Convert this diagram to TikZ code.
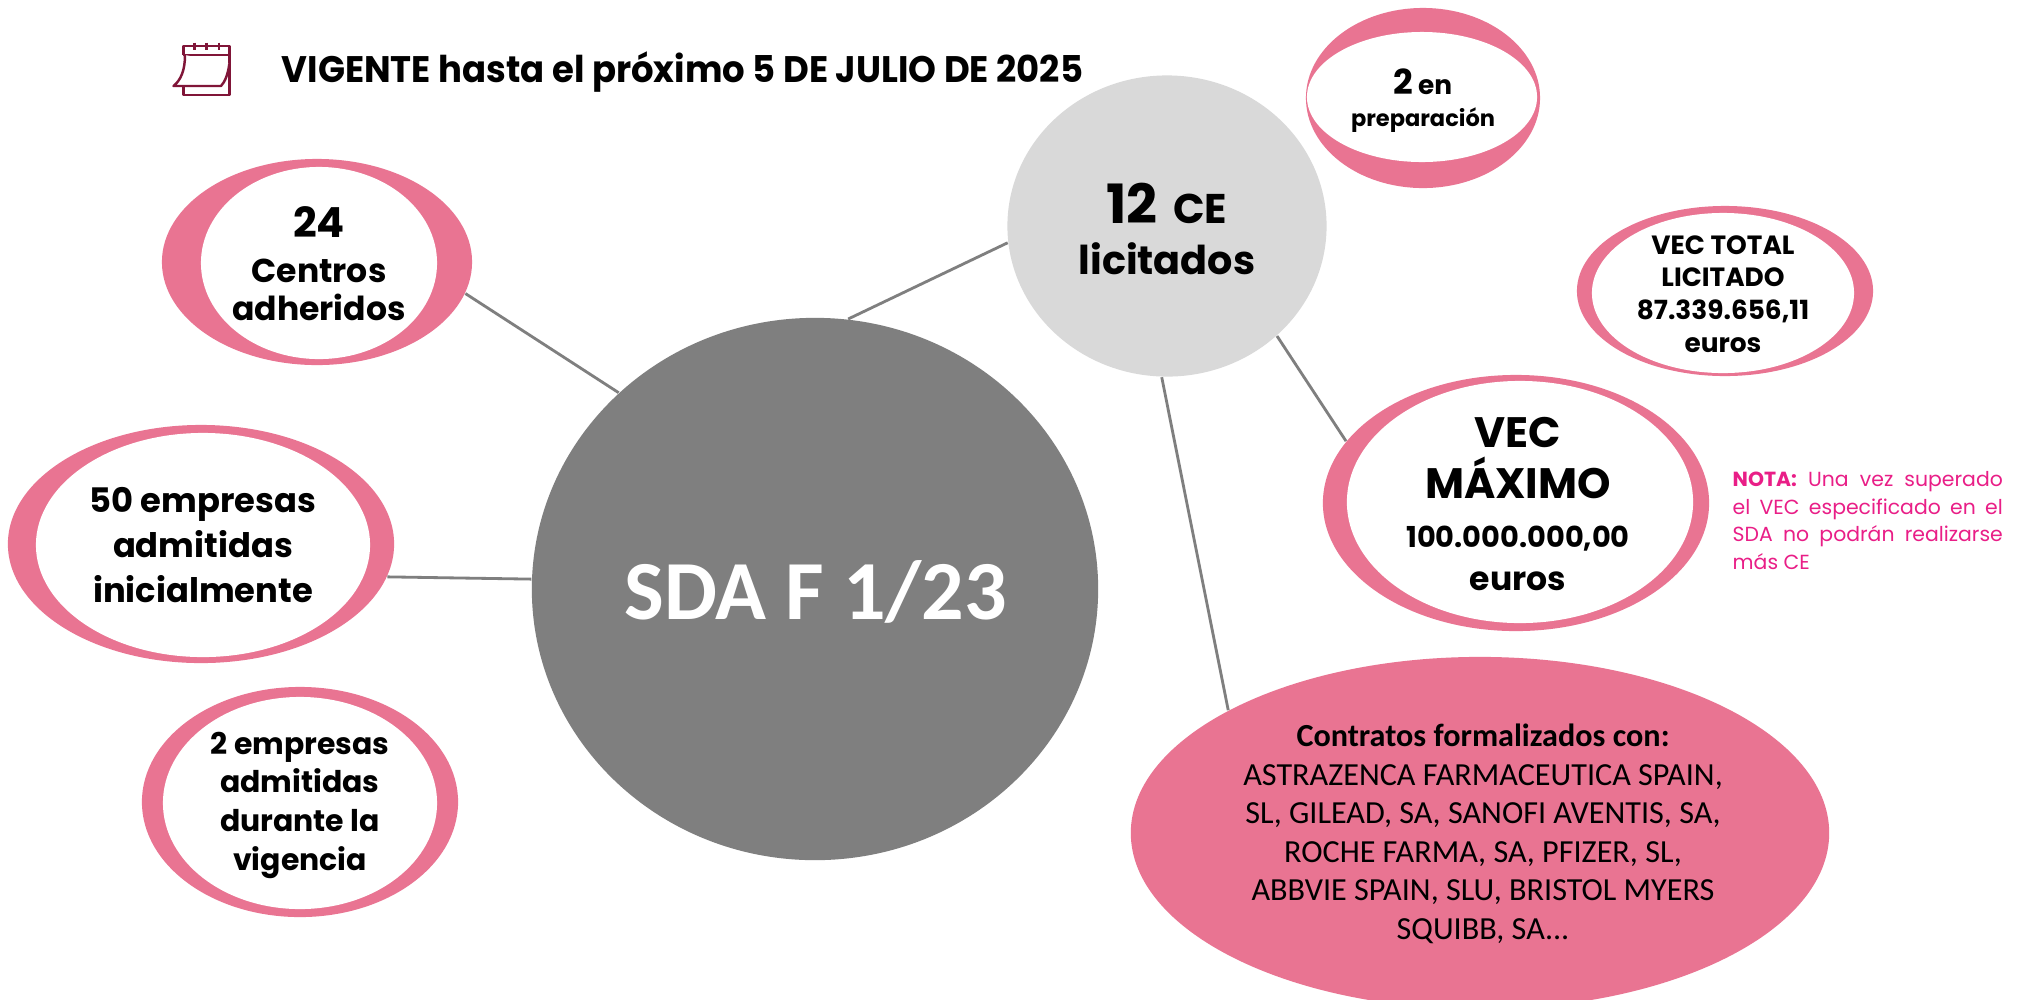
\documentclass[tikz,border=0pt]{standalone}
\usepackage{fontspec}
\setmainfont{Poppins}
\newfontfamily\calib{Carlito}
\usetikzlibrary{shapes.geometric}
\definecolor{pinkc}{RGB}{233,116,146}
\definecolor{grayc}{RGB}{127,127,127}
\definecolor{lgrayc}{RGB}{217,217,217}
\definecolor{connc}{RGB}{127,127,127}
\definecolor{notac}{RGB}{233,30,135}
\definecolor{maroonc}{RGB}{128,21,56}
\begin{document}
\begin{tikzpicture}[x=0.01cm,y=-0.01cm,
  ring/.style={ellipse,fill=pinkc,inner sep=0pt,draw=none},
  blob/.style={ellipse,inner sep=0pt,draw=none},
  conn/.style={draw=connc,line width=0.8pt},
  lbl/.style={align=center,inner sep=0pt,text=black},
  cal/.style={draw=maroonc,line width=0.7pt,line join=round}]
\fill[white] (0,0) rectangle (2020,999);
\useasboundingbox (0,0) rectangle (2020,999);

% calendar icon
\draw[cal] (183.3,55) -- (183.3,46) -- (229.3,46) -- (229.3,95) -- (183.3,95) -- (183.3,86);
\draw[cal] (183.3,55) -- (229.3,55);
\draw[cal] (194.3,42.5) -- (194.3,50) (206.7,42.5) -- (206.7,50) (219,42.5) -- (219,50);
\draw[cal,fill=white] (185,55) .. controls (185,70) and (181,80) .. (173.5,86) -- (221,86) .. controls (225,82) and (228,74) .. (229.3,64);

% title
\node[anchor=base west,inner sep=0pt,font=\fontsize{10.5}{13}\selectfont\bfseries] (title) at (281,82)
  {\scalebox{0.96}[1]{VIGENTE hasta el próximo 5 DE JULIO DE 2025}};

% shapes
\node[ring,minimum width=3.10cm,minimum height=2.06cm] (n24) at (317,262) {};
\fill[white] (319,263) ellipse [x radius=1.18cm,y radius=0.96cm];
\node[ring,minimum width=3.86cm,minimum height=2.38cm] (n50) at (201,544) {};
\fill[white] (203,545) ellipse [x radius=1.67cm,y radius=1.12cm];
\node[ring,minimum width=3.16cm,minimum height=2.30cm] (n2e) at (300,802) {};
\fill[white] (300,803) ellipse [x radius=1.37cm,y radius=1.06cm];
\node[blob,fill=grayc,minimum width=5.66cm,minimum height=5.42cm] (sda) at (815,589) {};
\node[blob,fill=lgrayc,minimum width=3.19cm,minimum height=3.01cm] (ce) at (1167,226) {};
\node[ring,minimum width=2.34cm,minimum height=1.80cm] (prep) at (1423,98) {};
\fill[white] (1422,97) ellipse [x radius=1.15cm,y radius=0.65cm];
\node[ring,minimum width=2.96cm,minimum height=1.70cm] (vtot) at (1725,291) {};
\fill[white] (1723,293) ellipse [x radius=1.31cm,y radius=0.80cm];
\node[ring,minimum width=3.86cm,minimum height=2.56cm] (vmax) at (1516,503) {};
\fill[white] (1520,502) ellipse [x radius=1.73cm,y radius=1.21cm];
\node[blob,fill=pinkc,minimum width=6.98cm,minimum height=3.52cm] (contr) at (1480,833) {};

% connectors
\draw[conn] (n24.-12.5) -- (sda.135.9);
\draw[conn] (n50.-10) -- (sda.178.2);
\draw[conn] (sda.83.1) -- (ce.186.7);
\draw[conn] (ce.-45) -- (vmax.160.2);
\draw[conn] (ce.-92) -- (contr.154.9);

% labels
\node[lbl,font=\fontsize{9.4}{10.8}\selectfont\bfseries] (t24) at (319,264)
  {{\fontsize{11.8}{13}\selectfont 24}\\[2pt]Centros\\adheridos};
\node[lbl,font=\fontsize{9.6}{12.7}\selectfont\bfseries] (t50) at (203,545)
  {50 empresas\\admitidas\\inicialmente};
\node[lbl,font=\fontsize{8.5}{11}\selectfont\bfseries] (t2e) at (300,805)
  {2 empresas\\admitidas\\durante la\\vigencia};
\node[inner sep=0pt,anchor=base,text=white,font=\fontsize{23.9}{28}\selectfont\calib\bfseries] (tsda) at (816,619)
  {SDA F 1/23};
\node[lbl,font=\fontsize{11.3}{14.5}\selectfont\bfseries] (tce) at (1167,229)
  {{\fontsize{15.4}{16}\selectfont 12}\hspace{2pt} {\fontsize{11.8}{13}\selectfont CE}\\licitados};
\node[lbl,font=\fontsize{6.4}{9.1}\selectfont\bfseries] (tprep) at (1423,101)
  {{\fontsize{9.8}{10}\selectfont 2} {\fontsize{7.5}{9}\selectfont en}\\preparación};
\node[lbl,font=\fontsize{7.5}{9.3}\selectfont\bfseries] (tvtot) at (1723,294)
  {VEC TOTAL\\LICITADO\\87.339.656,11\\euros};
\node[lbl,font=\fontsize{12.1}{14.5}\selectfont\bfseries] (tvmax) at (1518,504)
  {VEC\\MÁXIMO\\[-0.5pt]{\fontsize{8.2}{10}\selectfont 100.000.000,00}\\[-2.3pt]{\fontsize{9.4}{10}\selectfont euros}};
\node[align=left,inner sep=0pt,anchor=north west,text=notac,font=\fontsize{5.8}{7.8}\selectfont] (tnota) at (1732,471)
  {\makebox[2.70cm][s]{\textbf{NOTA:} Una vez superado}\\\makebox[2.70cm][s]{el VEC especificado en el}\\\makebox[2.70cm][s]{SDA no podrán realizarse}\\más CE};
\node[lbl,font=\fontsize{9.15}{10.95}\selectfont\calib] (tcontr) at (1483,834)
  {\textbf{Contratos formalizados con:}\\ASTRAZENCA FARMACEUTICA SPAIN,\\SL, GILEAD, SA, SANOFI AVENTIS, SA,\\ROCHE FARMA, SA, PFIZER, SL,\\ABBVIE SPAIN, SLU, BRISTOL MYERS\\SQUIBB, SA...};
\end{tikzpicture}
\end{document}
